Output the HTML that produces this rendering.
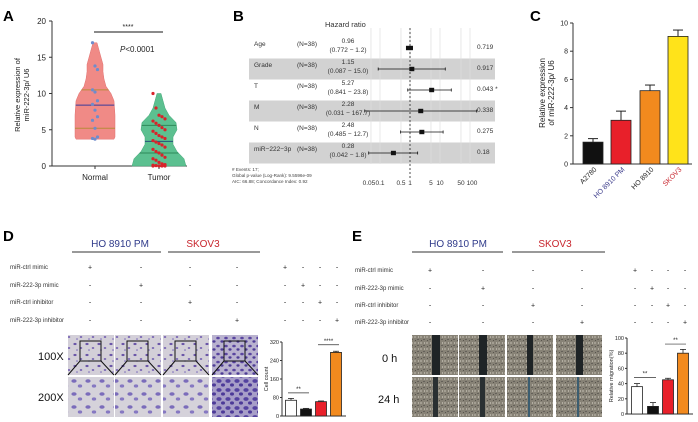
<!DOCTYPE html>
<html><head><meta charset="utf-8"><style>
html,body{margin:0;padding:0;background:#fff}
svg{display:block;font-family:"Liberation Sans",Arial,sans-serif}
</style></head><body>
<svg id="fig" width="698" height="422" viewBox="0 0 698 422" xmlns="http://www.w3.org/2000/svg">
<defs>
<pattern id="cellsA" width="12" height="11" patternUnits="userSpaceOnUse">
<rect width="12" height="11" fill="#d3cfd8"/>
<ellipse cx="3" cy="3" rx="1.6" ry="1.1" fill="#6a55a8"/>
<ellipse cx="9" cy="7" rx="1.3" ry="1" fill="#7a68b5"/>
<ellipse cx="5" cy="9" rx="1" ry="0.8" fill="#8a7cc0"/>
</pattern>
<pattern id="cellsB" width="8" height="8" patternUnits="userSpaceOnUse">
<rect width="8" height="8" fill="#b9b2cf"/>
<ellipse cx="2" cy="2" rx="1.8" ry="1.3" fill="#5a45a0"/>
<ellipse cx="6" cy="5.5" rx="1.6" ry="1.2" fill="#4e3c96"/>
</pattern>
<pattern id="cellsC" width="14" height="13" patternUnits="userSpaceOnUse">
<rect width="14" height="13" fill="#d5d2da"/>
<ellipse cx="4" cy="4" rx="2.6" ry="1.8" fill="#7b6cbb"/>
<ellipse cx="10" cy="9" rx="2.2" ry="1.6" fill="#8678c2"/>
</pattern>
<pattern id="cellsD" width="9" height="9" patternUnits="userSpaceOnUse">
<rect width="9" height="9" fill="#a79ec8"/>
<ellipse cx="3" cy="3" rx="2.6" ry="1.9" fill="#5442a0"/>
<ellipse cx="7" cy="7" rx="2" ry="1.6" fill="#4c3a98"/>
</pattern>
<pattern id="scratch" width="6" height="6" patternUnits="userSpaceOnUse">
<rect width="6" height="6" fill="#878276"/>
<rect x="0" y="0" width="2" height="2" fill="#a39e92"/>
<rect x="3" y="3" width="2" height="1" fill="#65615a"/>
<rect x="4" y="0" width="1" height="2" fill="#b2ada1"/>
<rect x="1" y="4" width="1" height="1" fill="#58544d"/>
</pattern>
</defs>
<g id="root"></g>
</svg>
<script>
// ---------- Panel A data ----------
const violinGroups = ['Normal','Tumor'];
const normalPoints = [17,13.8,13.3,10.5,10.2,9,8.5,7.7,6.8,6.3,5.2,4,3.8,3.7];
const tumorPoints = [10,8,7,6.8,6.5,6.2,5.9,5.6,5.3,5,4.8,4.5,4.2,4,3.8,3.5,3.3,3.1,2.9,2.6,2.3,2,1.8,1.5,1.2,1,0.8,0.5,0.3,0.2,0.1,0.05,0,0,0,0];
const normalQuartiles = [5.2,8.4,10.5];
const tumorQuartiles = [1.8,3.4,5.6];
const normalProfileVals = [3.7,4,5,7,9,10,11,12,13,14,15,16,17];
const normalProfileW = [19,20,20,20,19,16,11,9,8,8,6,4,2];
const tumorProfileVals = [0,1,2,3,4,5,6,7,8,9,10];
const tumorProfileW = [27,25,18,14,14,18,17,10,6,4,2];
const aTicks = [0,5,10,15,20];
// ---------- Panel B data ----------
const fpNames = ['Age','Grade','T','M','N','miR\u2212222\u22123p'];
const fpHR = [0.96,1.15,5.27,2.28,2.48,0.28];
const fpLo = [0.772,0.087,0.841,0.031,0.485,0.042];
const fpHi = [1.2,15.0,23.8,167.7,12.7,1.8];
const fpLoTxt = ['0.772','0.087','0.841','0.031','0.485','0.042'];
const fpHiTxt = ['1.2','15.0','23.8','167.7','12.7','1.8'];
const fpP = ['0.719','0.917','0.043 *','0.338','0.275','0.18'];
const fpTicks = [0.05,0.1,0.5,1,5,10,50,100];
const fpTickLbl = ['0.05','0.1','0.5','1','5','10','50','100'];
// ---------- Panel C data ----------
const cCats = ['A2780','HO 8910 PM','HO 8910','SKOV3'];
const cVals = [1.55,3.1,5.2,9.05];
const cErr = [0.25,0.65,0.4,0.45];
const cTicks = [0,2,4,6,8,10];
// ---------- Panel D data ----------
const dVals = [68,30,62,275];
const dErr = [8,3,3,5];
const dTicks = [0,80,160,240,320];
// ---------- Panel E data ----------
const eVals = [36,10,45,80];
const eErr = [4,5,2,5];
const eTicks = [0,20,40,60,80,100];

const NS='http://www.w3.org/2000/svg';
const root=document.getElementById('root');
function mk(tag,attrs,parent){const e=document.createElementNS(NS,tag);for(const k in attrs)e.setAttribute(k,attrs[k]);(parent||root).appendChild(e);return e;}
function tx(x,y,s,size,opts){opts=opts||{};const e=mk('text',{x:x,y:y,'font-size':size,fill:opts.fill||'#222','text-anchor':opts.anchor||'start'});if(opts.weight)e.setAttribute('font-weight',opts.weight);if(opts.style)e.setAttribute('font-style',opts.style);if(opts.tr)e.setAttribute('transform',opts.tr);e.textContent=s;return e;}
let el;

// ===== Panel labels =====
[['A',3,21],['B',233,21],['C',530,21],['D',3,241],['E',352,241]].forEach(p=>{
 el=tx(p[1],p[2],p[0],15,{weight:'bold',fill:'#000'});
 
 
});

// ===== Panel A =====
const aY=v=>166-v*(145/20);
const aX={Normal:95,Tumor:159};
el=mk('line',{x1:52,y1:21,x2:52,y2:166,stroke:'#333','stroke-width':1});


el=mk('line',{x1:52,y1:166,x2:187,y2:166,stroke:'#333','stroke-width':1});


aTicks.forEach(t=>{
 el=mk('line',{x1:49,y1:aY(t),x2:52,y2:aY(t),stroke:'#333'});
 
 
 el=tx(46,aY(t)+3,String(t),8,{anchor:'end'});
 
 
});
violinGroups.forEach(g=>{
 el=mk('line',{x1:aX[g],y1:166,x2:aX[g],y2:169,stroke:'#333'});
 
 
 el=tx(aX[g],180,g,8,{anchor:'middle'});
 
 
});
el=tx(0,0,'Relative expression of',7.5,{anchor:'middle',tr:'translate(20,95) rotate(-90)'});


el=tx(0,0,'miR-222-3p/ U6',7.5,{anchor:'middle',tr:'translate(29,95) rotate(-90)'});


function violinPath(cx,vals,ws){
 let r=[],l=[];
 for(let i=0;i<vals.length;i++){r.push((cx+ws[i])+','+aY(vals[i]));l.unshift((cx-ws[i])+','+aY(vals[i]));}
 return 'M'+r.join(' L')+' L'+l.join(' L')+' Z';
}
function halfW(vals,ws,v){for(let i=0;i<vals.length-1;i++){if(v>=vals[i]&&v<=vals[i+1]){const f=(v-vals[i])/(vals[i+1]-vals[i]);return ws[i]+f*(ws[i+1]-ws[i]);}}return ws[0];}
el=mk('path',{d:violinPath(aX.Normal,normalProfileVals,normalProfileW),fill:'#f08a86',stroke:'#e07070','stroke-width':0.5,'stroke-linejoin':'round'});


el=mk('path',{d:violinPath(aX.Tumor,tumorProfileVals,tumorProfileW),fill:'#5cc090',stroke:'#45a878','stroke-width':0.5,'stroke-linejoin':'round'});


normalQuartiles.forEach((q,i)=>{const w=halfW(normalProfileVals,normalProfileW,q);
 el=mk('line',{x1:aX.Normal-w,y1:aY(q),x2:aX.Normal+w,y2:aY(q),stroke:i==1?'#3a3a9a':'#b88a3a','stroke-width':1});
 
 
});
tumorQuartiles.forEach((q,i)=>{const w=halfW(tumorProfileVals,tumorProfileW,q);
 el=mk('line',{x1:aX.Tumor-w,y1:aY(q),x2:aX.Tumor+w,y2:aY(q),stroke:i==1?'#25507a':'#2e8a5a','stroke-width':1});
 
 
});
normalPoints.forEach((v,i)=>{
 el=mk('circle',{cx:aX.Normal+((i%3)-1)*2.5,cy:aY(v),r:1.6,fill:'#6f8ccc'});
 
 
});
tumorPoints.forEach((v,i)=>{
 el=mk('circle',{cx:aX.Tumor+((i%5)-2)*3,cy:aY(v),r:1.6,fill:'#d8232a'});
 
 
});
el=mk('line',{x1:94,y1:32,x2:163,y2:32,stroke:'#444','stroke-width':1.3});


el=tx(128,29,'****',7,{anchor:'middle'});


el=mk('text',{x:120,y:52,'font-size':8,fill:'#222'});el.innerHTML='<tspan font-style="italic">P</tspan>&lt;0.0001';



// ===== Panel B =====
const fX=v=>410+30*Math.log10(v);
const rowY=i=>48+i*21;
fpNames.forEach((n,i)=>{
 if(i%2==1){el=mk('rect',{x:249,y:rowY(i)-10.5,width:246,height:21,fill:'#d2d2d2'});
  
  }
});
fpTicks.forEach((t,i)=>{
 el=mk('line',{x1:fX(t),y1:28,x2:fX(t),y2:164,stroke:'#dedede','stroke-width':0.7});
 
 
 el=tx(fX(t)+(t==0.05?-2:t==100?2:0),185,fpTickLbl[i],6.5,{anchor:'middle',fill:'#333'});
 
 
});
el=mk('line',{x1:410,y1:28,x2:410,y2:178,stroke:'#222','stroke-dasharray':'2,2','stroke-width':0.8});


el=tx(325,27,'Hazard ratio',7.5,{fill:'#333'});


fpNames.forEach((n,i)=>{
 const y=rowY(i);
 el=tx(254,y-2,n,6.5,{fill:'#333'});
 
 
 el=tx(297,y-2,'(N=38)',6.5,{fill:'#333'});
 
 
 el=tx(348,y-5,String(fpHR[i]),6.5,{anchor:'middle',fill:'#333'});
 
 
 el=tx(348,y+4,'('+fpLoTxt[i]+' \u2212 '+fpHiTxt[i]+')',6.5,{anchor:'middle',fill:'#333'});
 
 
 el=tx(477,y+1,fpP[i],6.5,{fill:'#333'});
 
 
 el=mk('line',{x1:fX(fpLo[i]),y1:y,x2:fX(fpHi[i]),y2:y,stroke:'#111','stroke-width':0.8});
 
 
 [fpLo[i],fpHi[i]].forEach(v=>{el=mk('line',{x1:fX(v),y1:y-1.5,x2:fX(v),y2:y+1.5,stroke:'#111','stroke-width':0.8});
  
  });
 const bw=i==0?7:5;
 el=mk('rect',{x:fX(fpHR[i])-bw/2,y:y-2.2,width:bw,height:4.4,fill:'#111'});
 
 
});
['# Events: 17;','Global p-value (Log-Rank): 9.5596e-09','AIC: 66.88; Concordance Index: 0.92'].forEach((s,i)=>{
 el=tx(232,171+i*6,s,4.6,{fill:'#444'});
 
 
});

// ===== Panel C =====
const cY=v=>164-v*14.1;
const cX=[593,621,650,678];
const cColors=['#111','#e8202a','#f28a1e','#ffe31a'];
const cLblColors=['#222','#3a3a8a','#222','#c8262e'];
el=mk('line',{x1:573,y1:cY(10),x2:573,y2:164,stroke:'#333'});


el=mk('line',{x1:573,y1:164,x2:692,y2:164,stroke:'#333'});


cTicks.forEach(t=>{
 el=mk('line',{x1:570,y1:cY(t),x2:573,y2:cY(t),stroke:'#333'});
 
 
 el=tx(568,cY(t)+2.5,String(t),7,{anchor:'end'});
 
 
});
el=tx(0,0,'Relative expression',8,{anchor:'middle',tr:'translate(545,93) rotate(-90)'});


el=tx(0,0,'of miR-222-3p/ U6',8,{anchor:'middle',tr:'translate(554,93) rotate(-90)'});


cCats.forEach((c,i)=>{
 el=mk('line',{x1:cX[i],y1:cY(cVals[i]),x2:cX[i],y2:cY(cVals[i]+cErr[i]),stroke:'#222'});
 
 
 el=mk('line',{x1:cX[i]-5,y1:cY(cVals[i]+cErr[i]),x2:cX[i]+5,y2:cY(cVals[i]+cErr[i]),stroke:'#222'});
 
 
 el=mk('rect',{x:cX[i]-10,y:cY(cVals[i]),width:20,height:164-cY(cVals[i]),fill:cColors[i],stroke:'#222','stroke-width':0.8});
 
 
 el=tx(0,0,c,7,{anchor:'end',fill:cLblColors[i],tr:'translate('+(cX[i]+4)+',170) rotate(-45)'});
 
 
});

// ===== Panels D & E headers/tables =====
function header(ox,cols,rcols,rows,lblX,hdr){
 el=tx(hdr[0],247,'HO 8910 PM',10,{anchor:'middle',fill:'#2f3a8a'});
 
 
 el=mk('line',{x1:hdr[1],y1:252,x2:hdr[2],y2:252,stroke:'#333','stroke-width':1});
 
 
 el=tx(hdr[3],247,'SKOV3',10,{anchor:'middle',fill:'#c8262e'});
 
 
 el=mk('line',{x1:hdr[4],y1:252,x2:hdr[5],y2:252,stroke:'#333','stroke-width':1});
 
 
 const labels=['miR-ctrl mimic','miR-222-3p mimic','miR-ctrl inhibitor','miR-222-3p inhibitor'];
 labels.forEach((l,r)=>{
  el=tx(lblX,rows[r]+2,l,6,{fill:'#333'});
  
  
  cols.concat(rcols).forEach((cx,c)=>{
   el=tx(cx,rows[r]+2.5,(c%4)==r?'+':'-',7,{anchor:'middle',fill:'#222'});
   
   
  });
 });
}
header(0,[90,141,190,237],[285,303,320,337],[267,285,302,320],10,[120,72,161,203,168,260]);
header(350,[430,483,533,582],[635,652,668,685],[270,288,305,322],355,[458,412,503,555,512,605]);

// ===== Panel D images =====
const dImgX=[68,115,163,212];
const dTopFill=['url(#cellsA)','url(#cellsA)','url(#cellsA)','url(#cellsB)'];
const dBotFill=['url(#cellsC)','url(#cellsC)','url(#cellsC)','url(#cellsD)'];
dImgX.forEach((x,i)=>{
 el=mk('rect',{x:x,y:335,width:46,height:40,fill:dTopFill[i]});
 
 
 el=mk('rect',{x:x+12,y:341,width:21,height:20,fill:'none',stroke:'#111','stroke-width':1});
 
 
 el=mk('path',{d:'M'+(x+12)+',361 L'+x+',375 M'+(x+33)+',361 L'+(x+46)+',375',stroke:'#111','stroke-width':1,fill:'none'});
 
 
 el=mk('rect',{x:x,y:377,width:46,height:40,fill:dBotFill[i]});
 
 
});
el=tx(38,360,'100X',11,{fill:'#111'});


el=tx(38,401,'200X',11,{fill:'#111'});



// ===== Panel E images =====
const eImgX=[412,459,507,556];
const gap0=[8,8,6,7];
const gap24=[5,5,2,2];
eImgX.forEach((x,i)=>{
 el=mk('rect',{x:x,y:335,width:46,height:40,fill:'url(#scratch)'});
 
 
 el=mk('rect',{x:x+20,y:335,width:gap0[i],height:40,fill:'#1f2426'});
 
 
 el=mk('rect',{x:x,y:377,width:46,height:40,fill:'url(#scratch)'});
 
 
 el=mk('rect',{x:x+21,y:377,width:gap24[i],height:40,fill:i<2?'#2a3032':'#3b5d70'});
 
 
});
el=tx(382,362,'0 h',11,{fill:'#111'});


el=tx(378,403,'24 h',11,{fill:'#111'});



// ===== small bar charts =====
function smallBars(pfx,axX,y0,yTop,maxV,ticks,vals,errs,bx,title,sig){
 const Y=v=>y0-(v/maxV)*(y0-yTop);
 const cols=['#fff','#111','#e8202a','#f28a1e'];
 el=mk('line',{x1:axX,y1:yTop,x2:axX,y2:y0,stroke:'#333'});
 
 
 el=mk('line',{x1:axX,y1:y0,x2:bx[3]+10,y2:y0,stroke:'#333'});
 
 
 ticks.forEach(t=>{
  el=mk('line',{x1:axX-2,y1:Y(t),x2:axX,y2:Y(t),stroke:'#333'});
  
  
  el=tx(axX-3,Y(t)+2,String(t),5.5,{anchor:'end'});
  
  
 });
 el=tx(0,0,title,5.5,{anchor:'middle',tr:'translate('+(axX-14)+','+((y0+yTop)/2)+') rotate(-90)'});
 
 
 vals.forEach((v,i)=>{
  el=mk('line',{x1:bx[i],y1:Y(v),x2:bx[i],y2:Y(v+errs[i]),stroke:'#222','stroke-width':0.8});
  
  
  el=mk('line',{x1:bx[i]-3,y1:Y(v+errs[i]),x2:bx[i]+3,y2:Y(v+errs[i]),stroke:'#222','stroke-width':0.8});
  
  
  el=mk('rect',{x:bx[i]-5.5,y:Y(v),width:11,height:y0-Y(v),fill:cols[i],stroke:'#222','stroke-width':0.8});
  
  
 });
 sig.forEach(s=>{
  el=mk('line',{x1:bx[s[0]]-3,y1:Y(s[2]),x2:bx[s[1]]+3,y2:Y(s[2]),stroke:'#333','stroke-width':0.7});
  
  
  el=tx((bx[s[0]]+bx[s[1]])/2,Y(s[2])-2,s[3],6,{anchor:'middle'});
  
  
 });
}
smallBars('d',282,416,342,320,dTicks,dVals,dErr,[291,306,321,336],'Cell count',[[0,1,100,'**'],[2,3,308,'****']]);
smallBars('e',627,414,338,100,eTicks,eVals,eErr,[637,653,668,683],'Relative migration(%)',[[0,1,48,'**'],[2,3,92,'**']]);
</script>
</body></html>
